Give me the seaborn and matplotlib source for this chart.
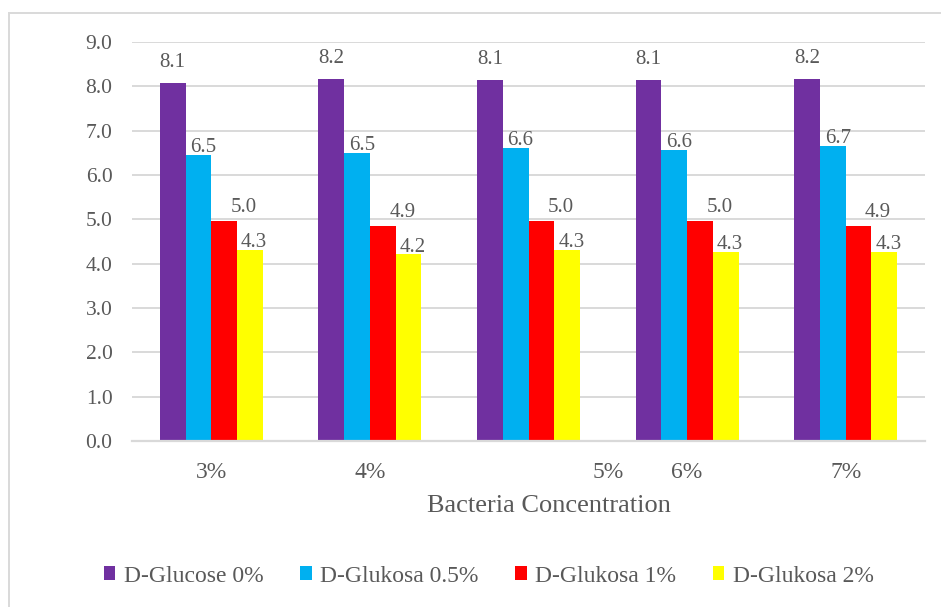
import matplotlib
matplotlib.use("Agg")
import matplotlib.pyplot as plt
from matplotlib.patches import Rectangle
from matplotlib.transforms import ScaledTranslation
import seaborn as sns
import pandas as pd

# Bacteria concentration groups and glucose treatments
concentrations = ["3%", "4%", "5%", "6%", "7%"]
series_names = ["D-Glucose 0%", "D-Glukosa 0.5%", "D-Glukosa 1%", "D-Glukosa 2%"]
glucose_0 = [8.08, 8.17, 8.14, 8.14, 8.17]
glukosa_05 = [6.46, 6.50, 6.61, 6.57, 6.66]
glukosa_1 = [4.96, 4.86, 4.96, 4.96, 4.86]
glukosa_2 = [4.31, 4.21, 4.31, 4.26, 4.26]
y_ticks = [0.0, 1.0, 2.0, 3.0, 4.0, 5.0, 6.0, 7.0, 8.0, 9.0]
colors = ["#7030A0", "#00B0F0", "#FF0000", "#FFFF00"]

rows = []
for name, vals in zip(series_names, [glucose_0, glukosa_05, glukosa_1, glukosa_2]):
    for c, v in zip(concentrations, vals):
        rows.append({"Concentration": c, "Series": name, "Value": v})
df = pd.DataFrame(rows)

sns.set_theme(style="white")
plt.rcParams["font.family"] = ["Liberation Serif", "DejaVu Serif"]
TEXT = "#595959"
GRID = "#D9D9D9"

fig = plt.figure(figsize=(9.41, 6.07), dpi=100)
W, H = 941, 607
ax = fig.add_axes([132 / W, (H - 441) / H, (925 - 132) / W, (441 - 42) / H])

sns.barplot(data=df, x="Concentration", y="Value", hue="Series",
            order=concentrations, hue_order=series_names, palette=colors,
            saturation=1, width=0.65, linewidth=0, ax=ax)

ax.set_ylim(0, 9)
ax.set_yticks(y_ticks)
ax.set_yticklabels([f"{t:.1f}" for t in y_ticks])
ax.yaxis.grid(True, color=GRID, linewidth=1.4)
ax.set_axisbelow(True)
for s in ["top", "right", "left"]:
    ax.spines[s].set_visible(False)
ax.spines["bottom"].set_color(GRID)
ax.spines["bottom"].set_linewidth(1.6)
ax.tick_params(axis="y", length=0, pad=14, labelsize=15.5, labelcolor=TEXT)
ax.tick_params(axis="x", length=0, pad=15, labelsize=17, labelcolor=TEXT)
ax.set_ylabel("")
ax.set_xlabel("Bacteria Concentration", fontsize=19, color=TEXT)
ax.xaxis.set_label_coords(0.526, -0.135)

# the "5%" category label sits to the right of its group
for lab in ax.get_xticklabels():
    if lab.get_text() == "5%":
        lab.set_transform(lab.get_transform() + ScaledTranslation(0.80, 0, fig.dpi_scale_trans))

# value labels above each bar (offsets in points per series)
offsets = [(0, 11.5), (3.6, 2.0), (14.0, 6.5), (3.0, 2.0)]
for cont, (dx, dy) in zip(ax.containers, offsets):
    for bar in cont:
        h = bar.get_height()
        ax.annotate(f"{h:.1f}", (bar.get_x() + bar.get_width() / 2, h),
                    xytext=(dx, dy), textcoords="offset points",
                    ha="center", va="baseline", fontsize=15, color=TEXT)

handles, labels = ax.get_legend_handles_labels()
if ax.legend_ is not None:
    ax.legend_.remove()
fig.legend(handles, labels, loc="center", bbox_to_anchor=(488.5 / W, (H - 576) / H),
           ncol=4, frameon=False, fontsize=17, labelcolor=TEXT,
           handlelength=0.5, handleheight=0.5, handletextpad=0.35,
           columnspacing=1.55, borderaxespad=0, borderpad=0)

# chart-area border
fig.patches.append(Rectangle((8.5 / W, -0.1), 2, (H - 12.5) / H + 0.1,
                             transform=fig.transFigure, fill=False,
                             edgecolor=GRID, linewidth=1.4))

fig.savefig("out.png", dpi=100)
